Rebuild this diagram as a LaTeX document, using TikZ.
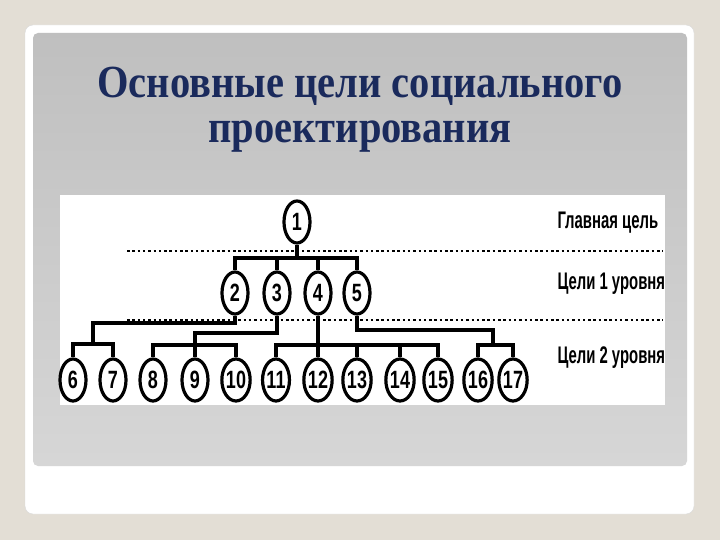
\documentclass[tikz,border=0pt]{standalone}
\usepackage{fontspec}
\setmainfont{Liberation Serif}
\newfontfamily\titlefont[FakeStretch=0.88]{Liberation Serif}
\newfontfamily\digitsf[FakeStretch=0.72]{Liberation Sans}
\newfontfamily\labelsf[FakeStretch=0.62]{Liberation Sans}
\usetikzlibrary{shapes.geometric}

\definecolor{pagebg}{HTML}{E3DED5}
\definecolor{titleblue}{HTML}{1A2A5C}

\tikzset{
  goal/.style={ellipse,draw,line width=3.2,fill=white,inner sep=0pt,
    minimum width=26,minimum height=42,font=\digitsf\bfseries\fontsize{25}{25}\selectfont},
  link/.style={line width=3.2},
  sepline/.style={line width=2.5,dash pattern=on 2.5 off 2.8},
  levellabel/.style={anchor=west,font=\labelsf\bfseries\fontsize{24}{24}\selectfont}
}

\begin{document}
\begin{tikzpicture}[x=1pt,y=-1pt]

  % slide background
  \fill[pagebg] (0,0) rectangle (720,540);
  \draw[black!15,fill=white,rounded corners=8] (25,25) rectangle (694,514);
  \shade[top color=black!25,bottom color=black!16,rounded corners=5] (33,33) rectangle (687,466);

  \node[anchor=base,text=titleblue,font=\titlefont\bfseries\fontsize{46}{46}\selectfont] (title1) at (360,98) {Основные цели социального};
  \node[anchor=base,text=titleblue,font=\titlefont\bfseries\fontsize{46}{46}\selectfont] (title2) at (360,143) {проектирования};

  \fill[white] (60,195) rectangle (665,405);

  % levels
  \draw[sepline] (127,251) -- (663,251);
  \draw[sepline] (127,320) -- (663,320);
  \node[levellabel] (lab0) at (554,223) {Главная цель};
  \node[levellabel] (lab1) at (554,284) {Цели 1 уровня};
  \node[levellabel] (lab2) at (554,358) {Цели 2 уровня};

  \begin{scope}[every node/.style={goal}]
    \node (1) at (297,222) {1};

    \node (2) at (235,293) {2};
    \node (3) at (277,293) {3};
    \node (4) at (318,293) {4};
    \node (5) at (357,293) {5};

    \node (6) at (73,380) {6};
    \node (7) at (113,380) {7};
    \node (8) at (153,380) {8};
    \node (9) at (195,380) {9};
    \node (10) at (236,380) {10};
    \node (11) at (276,380) {11};
    \node (12) at (318,380) {12};
    \node (13) at (357,380) {13};
    \node (14) at (400,380) {14};
    \node (15) at (438,380) {15};
    \node (16) at (478,380) {16};
    \node (17) at (513,380) {17};
  \end{scope}

  \coordinate (j1) at (297,258);
  \coordinate (j2) at (93,323);
  \coordinate (j3) at (195,333);
  \coordinate (j5) at (493,330);
  \coordinate (k2) at (93,344);
  \coordinate (k3) at (195,345);
  \coordinate (k4) at (318,345);
  \coordinate (k5) at (493,345);

  \begin{scope}[every path/.style={link}]
    \draw (1) -- (j1);
    \draw (2.north) |- (j1) -| (5.north);
    \draw (3.north) -- (3.north |- j1);
    \draw (4.north) -- (4.north |- j1);

    \draw (2.south) |- (j2) -- (k2);
    \draw (6.north) |- (k2) -| (7.north);

    \draw (3.south) |- (j3) -- (k3);
    \draw (8.north) |- (k3) -| (10.north);
    \draw (9) -- (k3);

    \draw (4) -- (12);
    \draw (11.north) |- (k4) -| (15.north);
    \draw (13.north) -- (13.north |- k4);
    \draw (14.north) -- (14.north |- k4);

    \draw (5.south) |- (j5) -- (k5);
    \draw (16.north) |- (k5) -| (17.north);
  \end{scope}

\end{tikzpicture}
\end{document}
